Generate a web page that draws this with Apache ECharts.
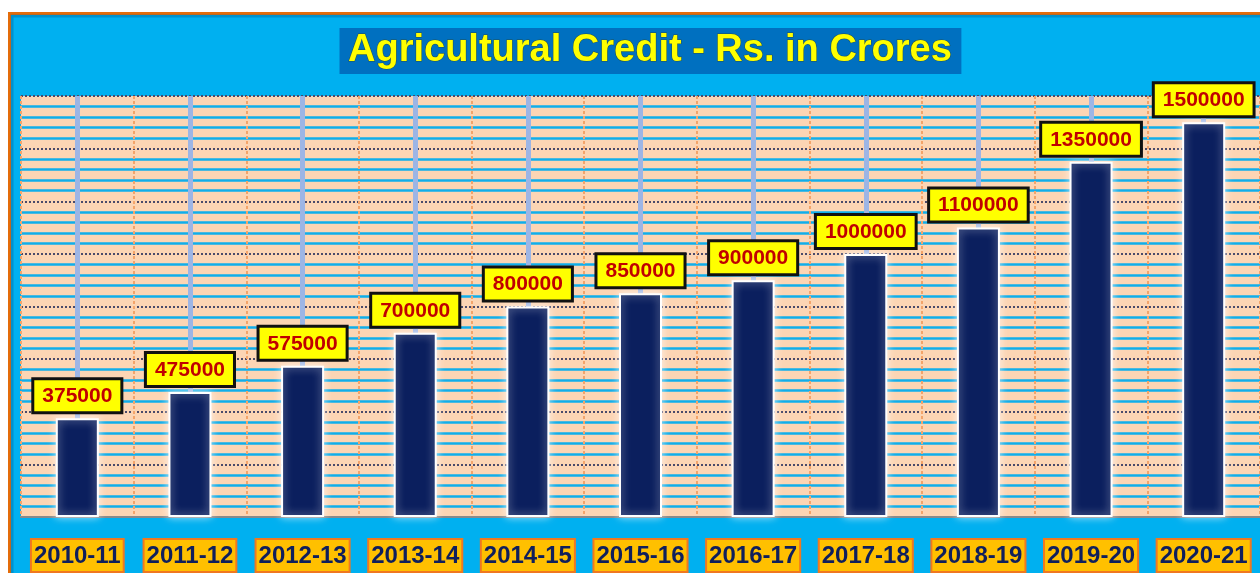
<!DOCTYPE html>
<html>
<head>
<meta charset="utf-8">
<title>Agricultural Credit</title>
<script src="https://cdn.jsdelivr.net/npm/echarts@6/dist/echarts.min.js"></script>
<style>
  html, body { margin: 0; padding: 0; background: #fff; }
  #chart { width: 1260px; height: 573px; }
</style>
</head>
<body>
<div id="chart"></div>
<script>
const years = ['2010-11', '2011-12', '2012-13', '2013-14', '2014-15', '2015-16',
  '2016-17', '2017-18', '2018-19', '2019-20', '2020-21']
const credit = [375000, 475000, 575000, 700000, 800000, 850000,
  900000, 1000000, 1100000, 1350000, 1500000]

const chart = echarts.init(document.getElementById('chart'))

chart.setOption({
  animation: false,
  backgroundColor: '#ffffff',
  // outer frame: orange border, sky blue fill
  graphic: [{
    type: 'rect',
    z: -10,
    shape: { x: 9.5, y: 13.5, width: 1300, height: 600 },
    style: { fill: '#00B0F0', stroke: '#E46C0A', lineWidth: 3 }
  }, {
    type: 'rect',
    z: -9,
    shape: { x: 12, y: 16, width: 1300, height: 600 },
    style: { fill: 'none', stroke: 'rgba(0,90,140,0.35)', lineWidth: 3 }
  }],
  title: {
    text: 'Agricultural Credit - Rs. in Crores',
    left: 340,
    top: 28,
    padding: [3, 9, 3, 8],
    backgroundColor: '#0070C0',
    textStyle: {
      fontFamily: 'Liberation Sans',
      fontSize: 38,
      lineHeight: 40,
      fontWeight: 'bold',
      color: '#FFFF00',
      textBorderColor: 'rgba(60,60,0,0.6)',
      textBorderWidth: 1
    }
  },
  grid: {
    left: 21,
    right: -7,
    top: 96,
    bottom: 56,
    show: true,
    backgroundColor: '#FCD5B4',
    borderWidth: 0
  },
  xAxis: [{
    type: 'category',
    data: years,
    axisLine: { show: true, lineStyle: { color: '#8a8a8a', width: 2 } },
    axisTick: { show: false },
    splitLine: { show: false },
    axisLabel: {
      interval: 0,
      margin: 23,
      fontFamily: 'Liberation Sans',
      fontSize: 24,
      fontWeight: 'bold',
      color: '#0F1F5C',
      lineHeight: 26,
      backgroundColor: '#FFC000',
      borderColor: '#F07820',
      borderWidth: 2,
      padding: [3, 2, 2, 2]
    }
  }, {
    // helper axis just for the vertical grid lines
    type: 'value',
    min: 0,
    max: 11,
    interval: 1,
    show: true,
    axisLine: { show: false },
    axisTick: { show: false },
    axisLabel: { show: false },
    splitLine: { show: true, lineStyle: { color: '#F4A46A', width: 2, type: [3, 2] } },
    minorTick: { show: false, splitNumber: 2 },
    minorSplitLine: { show: true, lineStyle: { color: '#9DB5E5', width: 5 } }
  }],
  yAxis: {
    type: 'value',
    min: 0,
    max: 1600000,
    interval: 200000,
    axisLine: { show: false },
    axisTick: { show: false },
    axisLabel: { show: false },
    splitLine: { show: true, lineStyle: { color: '#4a4a6a', width: 2, type: [2, 2] } },
    minorTick: { show: false, splitNumber: 5 },
    minorSplitLine: { show: true, lineStyle: { color: '#10AEEA', width: 2.5 } }
  },
  series: [{
    name: 'Agricultural Credit',
    type: 'bar',
    xAxisIndex: 0,
    barWidth: 43,
    data: credit,
    itemStyle: {
      color: '#0B1F5E',
      borderColor: '#ffffff',
      borderWidth: 2,
      shadowColor: 'rgba(255,255,255,0.7)',
      shadowBlur: 8
    },
    label: {
      show: true,
      position: 'top',
      distance: 7,
      fontFamily: 'Liberation Sans',
      fontSize: 21,
      fontWeight: 'bold',
      color: '#C00000',
      lineHeight: 22,
      backgroundColor: '#FFFF00',
      borderColor: '#111111',
      borderWidth: 3,
      padding: [5, 8, 4, 8]
    }
  }]
})
</script>
</body>
</html>
